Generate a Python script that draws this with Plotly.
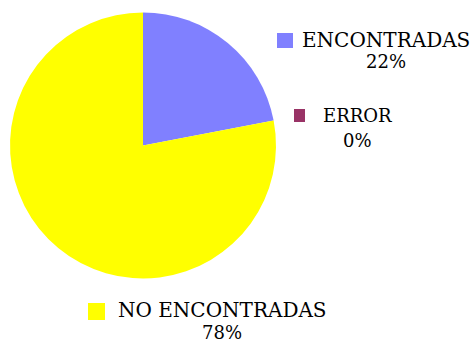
import plotly.graph_objects as go

# Resultados de la búsqueda
categorias = ["ENCONTRADAS", "ERROR", "NO ENCONTRADAS"]
porcentajes = [22, 0, 78]
colores = ["#8080FF", "#993366", "#FFFF00"]

W, H = 474, 344

fig = go.Figure(
    go.Pie(
        labels=categorias,
        values=porcentajes,
        sort=False,
        direction="clockwise",
        rotation=0,
        marker=dict(colors=colores, line=dict(width=0)),
        textinfo="none",
        hoverinfo="label+percent",
        showlegend=False,
        domain=dict(x=[10 / W, 276 / W], y=[1 - 279 / H, 1 - 12 / H]),
    )
)

# Leyenda dibujada a mano: muestra de color, nombre y porcentaje
# (x_muestra, y_muestra, (ancho, alto), x_texto, y_nombre, y_porcentaje, fuente_nombre)
leyenda = [
    (277, 33, (16, 15), 386, 40, 62, 20),
    (294, 109, (11, 13), 357, 116, 140, 18),
    (88, 303, (17, 17), 222, 310, 332, 20),
]

shapes = []
annotations = []
for cat, pct, col, (sx, sy, (sw, sh), tx, ty1, ty2, fs) in zip(
    categorias, porcentajes, colores, leyenda
):
    shapes.append(
        dict(
            type="rect", xref="paper", yref="paper",
            x0=sx / W, x1=(sx + sw) / W,
            y0=1 - (sy + sh) / H, y1=1 - sy / H,
            fillcolor=col, line=dict(width=0),
        )
    )
    for texto, ty, tam in ((cat, ty1, fs), (f"{pct}%", ty2, 18)):
        annotations.append(
            dict(
                text=texto, xref="paper", yref="paper",
                x=tx / W, y=1 - ty / H,
                xanchor="center", yanchor="middle", showarrow=False,
                borderpad=0,
                font=dict(family="DejaVu Serif", size=tam, color="black"),
            )
        )

fig.update_layout(
    width=W, height=H,
    margin=dict(l=0, r=0, t=0, b=0),
    paper_bgcolor="white", plot_bgcolor="white",
    shapes=shapes, annotations=annotations,
)

fig.write_html("out.html")
